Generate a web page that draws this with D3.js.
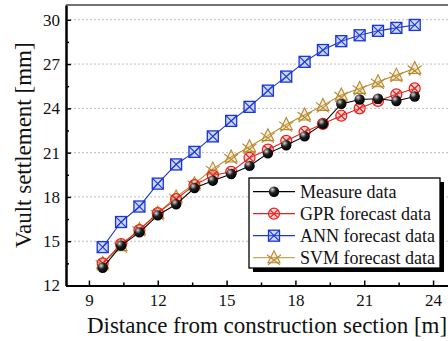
<!DOCTYPE html>
<html>
<head>
<meta charset="utf-8" />
<title>Vault settlement</title>
<style>
  body { margin: 0; background: #fff; }
  svg { display: block; }
  text { font-family: "Liberation Serif", "Times New Roman", serif; }
</style>
</head>
<body>
<svg id="chart"></svg>
<script src="https://d3js.org/d3.v7.min.js"></script>
<script>

  // distances along the tunnel (m)
  var distance = [9.6, 10.4, 11.2, 12.0, 12.8, 13.6, 14.4, 15.2, 16.0, 16.8, 17.6, 18.4, 19.2, 20.0, 20.8, 21.6, 22.4, 23.2];

  var measure = [13.2, 14.7, 15.6, 16.75, 17.5, 18.6, 19.1, 19.55, 20.1, 20.95, 21.5, 22.1, 22.95, 24.3, 24.6, 24.65, 24.5, 24.8];
  var gpr     = [13.5, 14.8, 15.75, 16.9, 17.85, 18.8, 19.45, 19.7, 20.65, 21.2, 21.8, 22.4, 22.95, 23.5, 24.0, 24.5, 24.95, 25.35];
  var ann     = [14.6, 16.3, 17.35, 18.9, 20.2, 21.05, 22.1, 23.15, 24.1, 25.2, 26.15, 27.15, 27.95, 28.55, 28.95, 29.25, 29.45, 29.65];
  var svm     = [13.5, 14.7, 15.8, 16.9, 18.0, 18.9, 19.9, 20.7, 21.4, 22.15, 22.9, 23.55, 24.2, 24.9, 25.35, 25.8, 26.25, 26.7];

  var seriesNames = ["Measure data", "GPR forecast data", "ANN forecast data", "SVM forecast data"];
  var xTicks = [9, 12, 15, 18, 21, 24];
  var yTicks = [12, 15, 18, 21, 24, 27, 30];

  var width = 448, height = 341;
  var serif = "Liberation Serif";
  // plot box (right side runs past the window edge, as in the original)
  var pLeft = 66, pTop = 5, pRight = 456, pBottom = 285.5;

  var svg = d3.select("#chart").attr("width", width).attr("height", height);

  var x = d3.scaleLinear().domain([8, 25]).range([pLeft, pRight]);
  var y = d3.scaleLinear().domain([12, 31]).range([pBottom, pTop]);

  var series = [
    {name: seriesNames[0], values: measure, color: "#000000", lcolor: "#000000", kind: "ball"},
    {name: seriesNames[1], values: gpr,     color: "#e3201b", lcolor: "#e3201b", kind: "circx"},
    {name: seriesNames[2], values: ann,     color: "#1a36d4", lcolor: "#1a36d4", kind: "sqx"},
    {name: seriesNames[3], values: svm,     color: "#b58a2c", lcolor: "#c8a660", kind: "tri"}
  ];

  // gradient for the black balls
  var defs = svg.append("defs");
  var grad = defs.append("radialGradient").attr("id", "ball")
                 .attr("cx", "35%").attr("cy", "30%").attr("r", "70%");
  grad.append("stop").attr("offset", "0%").attr("stop-color", "#d8d8d8");
  grad.append("stop").attr("offset", "45%").attr("stop-color", "#222");
  grad.append("stop").attr("offset", "100%").attr("stop-color", "#000");

  // horizontal dotted grid
  svg.append("g")
     .selectAll("line")
     .data(yTicks.slice(1))
     .enter().append("line")
     .attr("x1", pLeft).attr("x2", pRight)
     .attr("y1", function(d){ return y(d); })
     .attr("y2", function(d){ return y(d); })
     .attr("stroke", "#bdbdbd")
     .attr("stroke-width", 1)
     .attr("stroke-dasharray", "2,2");

  // axes, ticks inward
  var xAxis = svg.append("g").attr("transform", "translate(0," + pBottom + ")")
                 .call(d3.axisBottom(x).tickValues(xTicks).tickSizeInner(-5).tickSizeOuter(0).tickPadding(8));
  var xMinor = svg.append("g").attr("transform", "translate(0," + pBottom + ")")
                 .call(d3.axisBottom(x).tickValues(xTicks.map(function(d){ return d + 1.5; }))
                         .tickSizeInner(-3).tickSizeOuter(0).tickFormat(""));
  var yAxis = svg.append("g").attr("transform", "translate(" + pLeft + ",0)")
                 .call(d3.axisLeft(y).tickValues(yTicks).tickSizeInner(-5).tickSizeOuter(0).tickPadding(6));
  var yMinor = svg.append("g").attr("transform", "translate(" + pLeft + ",0)")
                 .call(d3.axisLeft(y).tickValues(yTicks.slice(0, -1).map(function(d){ return d + 1.5; }))
                         .tickSizeInner(-3).tickSizeOuter(0).tickFormat(""));

  [xAxis, xMinor, yAxis, yMinor].forEach(function(g){
    g.attr("font-family", serif);
    g.select(".domain").attr("stroke", "#000").attr("stroke-width", 2);
    g.selectAll(".tick line").attr("stroke", "#000").attr("stroke-width", 1.5);
    g.selectAll("text").attr("font-family", serif).attr("font-size", 17).attr("fill", "#111");
  });

  // top frame
  svg.append("line")
     .attr("x1", pLeft).attr("x2", pRight).attr("y1", pTop).attr("y2", pTop)
     .attr("stroke", "#444").attr("stroke-width", 1.5);

  svg.append("text")
     .attr("x", 267).attr("y", 333)
     .attr("text-anchor", "middle")
     .attr("font-family", serif)
     .attr("font-size", 23).attr("fill", "#111")
     .text("Distance from construction section [m]");

  svg.append("text")
     .attr("transform", "translate(31," + ((pTop + pBottom) / 2) + ") rotate(-90)")
     .attr("text-anchor", "middle")
     .attr("font-family", serif)
     .attr("font-size", 23).attr("fill", "#111")
     .text("Vault settlement [mm]");

  function drawMarker(g, kind, color){
    if(kind == "ball"){
      g.append("circle").attr("r", 5.2).attr("fill", "url(#ball)");
    } else if(kind == "circx"){
      g.append("circle").attr("r", 5.5).attr("fill", "rgba(240,120,120,0.35)")
       .attr("stroke", color).attr("stroke-width", 1.2);
      g.append("path").attr("d", "M-3.9,-3.9L3.9,3.9M3.9,-3.9L-3.9,3.9")
       .attr("stroke", color).attr("stroke-width", 1.2);
    } else if(kind == "sqx"){
      g.append("rect").attr("x", -5.5).attr("y", -5.5).attr("width", 11).attr("height", 11)
       .attr("fill", "rgba(110,140,240,0.35)").attr("stroke", color).attr("stroke-width", 1.3);
      g.append("path").attr("d", "M-5.5,-5.5L5.5,5.5M5.5,-5.5L-5.5,5.5")
       .attr("stroke", color).attr("stroke-width", 1.1);
    } else {
      g.append("path").attr("d", "M0,-7L6,5L-6,5Z")
       .attr("fill", "rgba(220,190,120,0.3)").attr("stroke", color).attr("stroke-width", 1.1);
      g.append("path").attr("d", "M-7,-3L6,7M7,-3L-6,7")
       .attr("stroke", color).attr("stroke-width", 1.1);
    }
  }

  var line = d3.line()
               .x(function(d){ return x(d[0]); })
               .y(function(d){ return y(d[1]); });

  // draw SVM first so measure sits on top like the original
  var order = [3, 2, 1, 0];
  order.forEach(function(k){
    var s = series[k];
    var pts = distance.map(function(d, i){ return [d, s.values[i]]; });
    var g = svg.append("g");
    g.append("path").datum(pts)
     .attr("d", line)
     .attr("fill", "none")
     .attr("stroke", s.color)
     .attr("stroke-width", 1.1);
    g.selectAll("g.m").data(pts).enter().append("g")
     .attr("class", "m")
     .attr("transform", function(d){ return "translate(" + x(d[0]) + "," + y(d[1]) + ")"; })
     .each(function(){ drawMarker(d3.select(this), s.kind, s.color); });
  });

  // legend
  var lx = 249, ly = 178, lw = 191, lh = 90;
  var legend = svg.append("g");
  legend.append("rect").attr("x", lx + 4).attr("y", ly + 4).attr("width", lw).attr("height", lh).attr("fill", "#000");
  legend.append("rect").attr("x", lx).attr("y", ly).attr("width", lw).attr("height", lh)
        .attr("fill", "#fff").attr("stroke", "#000").attr("stroke-width", 1.3);

  var rows = legend.selectAll("g.row").data(series).enter().append("g")
                   .attr("class", "row")
                   .attr("transform", function(d, i){ return "translate(" + lx + "," + (ly + 13.7 + i * 22) + ")"; });
  rows.append("line").attr("x1", 4).attr("x2", 46)
      .attr("stroke", function(d){ return d.lcolor; }).attr("stroke-width", 1.3);
  rows.append("g").attr("transform", "translate(25,0)")
      .each(function(d){ drawMarker(d3.select(this), d.kind, d.color); });
  rows.append("text").attr("x", 51).attr("dy", "0.35em")
      .attr("font-family", serif)
      .attr("font-size", 18).attr("fill", "#111")
      .text(function(d){ return d.name; });

</script>
</body>
</html>
